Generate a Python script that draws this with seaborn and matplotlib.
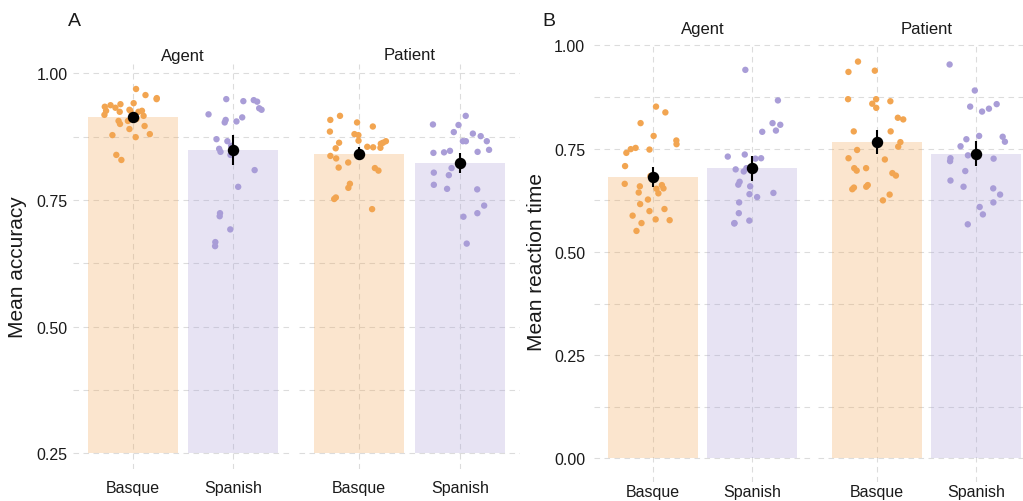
import numpy as np
import pandas as pd
import matplotlib
matplotlib.use("Agg")
import matplotlib.pyplot as plt
import seaborn as sns

# ---------------- data ----------------
languages = ["Basque", "Spanish"]
roles = ["Agent", "Patient"]

acc_agent_basque = [0.969, 0.957, 0.939, 0.941, 0.949, 0.951, 0.937, 0.932, 0.926, 0.928,
                    0.934, 0.926, 0.926, 0.924, 0.916, 0.924, 0.918, 0.910, 0.906, 0.906,
                    0.900, 0.896, 0.890, 0.878, 0.874, 0.880, 0.829, 0.839]
acc_agent_spanish = [0.949, 0.931, 0.928, 0.945, 0.944, 0.947, 0.908, 0.919, 0.913, 0.905,
                     0.903, 0.870, 0.866, 0.857, 0.851, 0.845, 0.839, 0.809, 0.776, 0.724,
                     0.718, 0.692, 0.667, 0.659]
acc_patient_basque = [0.916, 0.908, 0.903, 0.895, 0.880, 0.878, 0.885, 0.867, 0.866, 0.853,
                      0.854, 0.852, 0.863, 0.861, 0.863, 0.855, 0.837, 0.832, 0.824, 0.814,
                      0.813, 0.808, 0.782, 0.774, 0.755, 0.752, 0.732]
acc_patient_spanish = [0.916, 0.899, 0.898, 0.884, 0.876, 0.881, 0.866, 0.866, 0.866, 0.849,
                       0.847, 0.844, 0.845, 0.843, 0.813, 0.804, 0.799, 0.780, 0.772, 0.771,
                       0.739, 0.724, 0.717, 0.664]

rt_agent_basque = [0.852, 0.838, 0.812, 0.781, 0.770, 0.761, 0.749, 0.752, 0.740, 0.748,
                   0.708, 0.684, 0.662, 0.659, 0.654, 0.642, 0.665, 0.653, 0.644, 0.627,
                   0.616, 0.604, 0.599, 0.588, 0.579, 0.577, 0.570, 0.551]
rt_agent_spanish = [0.941, 0.867, 0.808, 0.791, 0.794, 0.812, 0.736, 0.731, 0.727, 0.726,
                    0.695, 0.700, 0.703, 0.659, 0.663, 0.670, 0.640, 0.643, 0.633, 0.620,
                    0.594, 0.576, 0.570, 0.569]
rt_patient_basque = [0.961, 0.936, 0.939, 0.865, 0.859, 0.870, 0.870, 0.849, 0.821, 0.825,
                     0.792, 0.792, 0.766, 0.755, 0.747, 0.724, 0.727, 0.703, 0.703, 0.697,
                     0.691, 0.685, 0.662, 0.658, 0.656, 0.652, 0.639, 0.625]
rt_patient_spanish = [0.954, 0.891, 0.852, 0.858, 0.847, 0.840, 0.781, 0.779, 0.767, 0.773,
                      0.756, 0.726, 0.720, 0.734, 0.727, 0.696, 0.673, 0.658, 0.654, 0.639,
                      0.620, 0.609, 0.591, 0.567]

# half-widths of the error bars (Basque, Spanish)
acc_err_agent = [0.010, 0.029]
acc_err_patient = [0.013, 0.020]
rt_err_agent = [0.024, 0.030]
rt_err_patient = [0.029, 0.031]

acc_ticks = [0.25, 0.50, 0.75, 1.00]
acc_tick_labels = ["0.25", "0.50", "0.75", "1.00"]
rt_ticks = [0.00, 0.25, 0.50, 0.75, 1.00]
rt_tick_labels = ["0.00", "0.25", "0.50", "0.75", "1.00"]


def make_df(agent_b, agent_s, patient_b, patient_s):
    rows = []
    for role, lang, vals in [("Agent", "Basque", agent_b), ("Agent", "Spanish", agent_s),
                             ("Patient", "Basque", patient_b), ("Patient", "Spanish", patient_s)]:
        for v in vals:
            rows.append({"role": role, "language": lang, "value": v})
    return pd.DataFrame(rows)


acc_df = make_df(acc_agent_basque, acc_agent_spanish, acc_patient_basque, acc_patient_spanish)
rt_df = make_df(rt_agent_basque, rt_agent_spanish, rt_patient_basque, rt_patient_spanish)
acc_err = {"Agent": acc_err_agent, "Patient": acc_err_patient}
rt_err = {"Agent": rt_err_agent, "Patient": rt_err_patient}

# ---------------- style ----------------
sns.set_theme(style="white")
plt.rcParams["font.family"] = ["Liberation Sans", "DejaVu Sans"]

point_colors = {"Basque": "#F2A551", "Spanish": "#A99DD7"}
bar_colors = {"Basque": "#F2A551", "Spanish": "#A99DD7"}
grid_color = "#DCDCDC"
text_color = "#1a1a1a"

W, H = 1023, 502
fig = plt.figure(figsize=(W / 100, H / 100), dpi=100)


def box(l, t, r, b):
    return [l / W, 1 - b / H, (r - l) / W, (b - t) / H]


def draw_facet(ax, df, role, errs, ylim, ticks, tick_labels, minor, show_y, bar_base, xpad):
    sub = df[df["role"] == role]
    np.random.seed(3 if role == "Agent" else 11)
    sns.barplot(data=sub, x="language", y="value", hue="language", order=languages,
                hue_order=languages, palette=bar_colors, errorbar=None, width=0.9,
                saturation=1, alpha=0.28, legend=False, ax=ax, zorder=1, linewidth=0)
    if bar_base > 0:
        for p in ax.patches:
            h = p.get_height()
            p.set_y(bar_base)
            p.set_height(h - bar_base)
    sns.stripplot(data=sub, x="language", y="value", hue="language", order=languages,
                  hue_order=languages, palette=point_colors, jitter=0.3, size=4.6,
                  linewidth=0, legend=False, ax=ax, zorder=2)
    means = sub.groupby("language")["value"].mean().reindex(languages).values
    e = np.array(errs)
    ax.vlines(range(len(languages)), means - e, means + e, color="black", lw=1.5, zorder=3)
    sns.pointplot(data=sub, x="language", y="value", order=languages, errorbar=None,
                  color="black", linestyle="none", markers="o", markersize=6.2,
                  ax=ax, zorder=4)
    ax.set_xlim(-0.6, 1.6)
    ax.set_ylim(*ylim)
    ax.set_yticks(ticks)
    ax.set_yticks(minor, minor=True)
    if show_y:
        ax.set_yticklabels(tick_labels)
    else:
        ax.set_yticklabels([])
    ax.set_xlabel("")
    ax.set_ylabel("")
    ax.grid(True, which="major", axis="both", color=grid_color, lw=0.8,
            linestyle=(0, (5, 4)), zorder=0)
    ax.grid(True, which="minor", axis="y", color=grid_color, lw=0.8,
            linestyle=(0, (5, 4)), zorder=0)
    ax.set_axisbelow(True)
    for s in ax.spines.values():
        s.set_visible(False)
    ax.tick_params(axis="both", which="both", length=0, labelsize=11.5,
                   labelcolor=text_color)
    ax.tick_params(axis="x", pad=xpad)
    ax.tick_params(axis="y", pad=4)
    ax.set_facecolor("none")


# Panel A
acc_ylim = (0.2194, 1.0183)
acc_minor = [0.375, 0.625, 0.875]
axA1 = fig.add_axes(box(73, 65, 293, 470))
axA2 = fig.add_axes(box(299, 65, 520, 470))
draw_facet(axA1, acc_df, "Agent", acc_err["Agent"], acc_ylim, acc_ticks, acc_tick_labels,
           acc_minor, True, 0.25, 8)
draw_facet(axA2, acc_df, "Patient", acc_err["Patient"], acc_ylim, acc_ticks, acc_tick_labels,
           acc_minor, False, 0.25, 8)

# Panel B
rt_ylim = (-0.0569, 1.0036)
rt_minor = [0.125, 0.375, 0.625, 0.875]
axB1 = fig.add_axes(box(593.6, 45, 811.4, 483))
axB2 = fig.add_axes(box(817.6, 45, 1035.4, 483))
draw_facet(axB1, rt_df, "Agent", rt_err["Agent"], rt_ylim, rt_ticks, rt_tick_labels,
           rt_minor, True, 0.0, 1.5)
draw_facet(axB2, rt_df, "Patient", rt_err["Patient"], rt_ylim, rt_ticks, rt_tick_labels,
           rt_minor, False, 0.0, 1.5)
axB1.tick_params(axis="y", pad=6)

# strip labels
for ax, label, y in [(axA1, "Agent", 56), (axA2, "Patient", 56),
                     (axB1, "Agent", 30), (axB2, "Patient", 30)]:
    pos = ax.get_position()
    fig.text(pos.x0 + pos.width / 2, 1 - y / H, label, ha="center", va="center",
             fontsize=12, color=text_color)

# axis titles
fig.text(18 / W, 1 - 267 / H, "Mean accuracy", rotation=90, ha="center", va="center",
         fontsize=15, color=text_color)
fig.text(537 / W, 1 - 262 / H, "Mean reaction time", rotation=90, ha="center", va="center",
         fontsize=15, color=text_color)

# panel letters
fig.text(68 / W, 1 - 21 / H, "A", ha="left", va="center", fontsize=14, color=text_color)
fig.text(542 / W, 1 - 21 / H, "B", ha="left", va="center", fontsize=14, color=text_color)

fig.savefig("out.png", dpi=100, facecolor="white")
